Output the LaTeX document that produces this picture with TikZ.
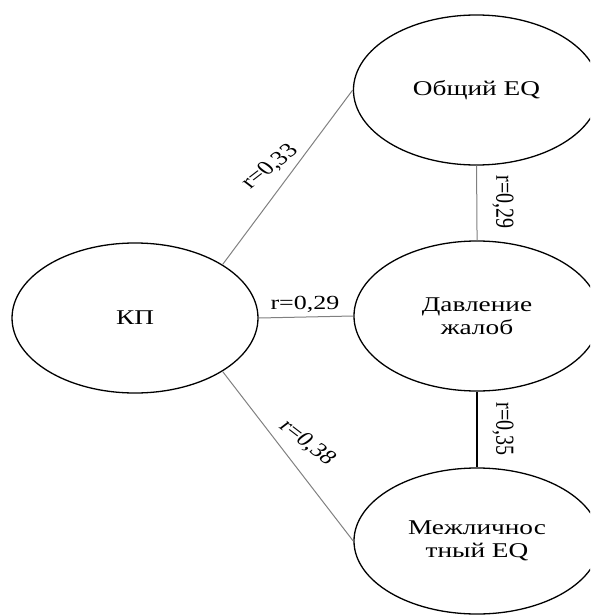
\documentclass[tikz,border=0pt]{standalone}
\usepackage{fontspec}
\setmainfont{Liberation Serif}
\usetikzlibrary{shapes.geometric}
\tikzset{
  bubble/.style={ellipse, draw=black, line width=1.3pt, minimum width=189.2pt, minimum height=150pt, inner sep=0pt, align=center, font=\fontsize{21}{22.5}\selectfont, text=black},
  thin link/.style={draw=black!50, line width=1pt},
  thick link/.style={draw=black, line width=1.5pt},
  rlabel/.style={font=\fontsize{20}{22}\selectfont, inner sep=0pt, text=black}
}
\begin{document}
\begin{tikzpicture}[x=1pt, y=-1pt]
\useasboundingbox (0,0) rectangle (590,615);
\clip (0,0) rectangle (590,615);
\begin{scope}[xscale=1.3, transform shape]
  \node[bubble] (kp) at (103.85,318) {КП};
  \node[bubble] (top) at (366.5,90) {Общий EQ};
  \node[bubble] (mid) at (366.9,316) {Давление\\жалоб};
  \node[bubble, minimum height=146pt] (bot) at (366.9,541) {Межличнос\\тный EQ};

  \path[thin link] (kp.north east) -- (top.west);
  \path[thin link] (kp.east) -- (mid.west);
  \path[thin link] (kp.south east) -- (bot.west);
  \path[thin link] (top.south) -- (mid.north);
  \path[thick link] (mid.south) -- (bot.north);

  \node[rlabel, rotate=45] (l1) at (207.7,167) {r=0,33};
  \node[rlabel] (l2) at (234.6,304) {r=0,29};
  \node[rlabel, rotate=-90] (l3) at (386.9,202) {r=0,29};
  \node[rlabel, rotate=-90] (l4) at (386.9,429) {r=0,35};
  \node[rlabel, rotate=-45] (l5) at (236.2,443) {r=0,38};
\end{scope}
\end{tikzpicture}
\end{document}
